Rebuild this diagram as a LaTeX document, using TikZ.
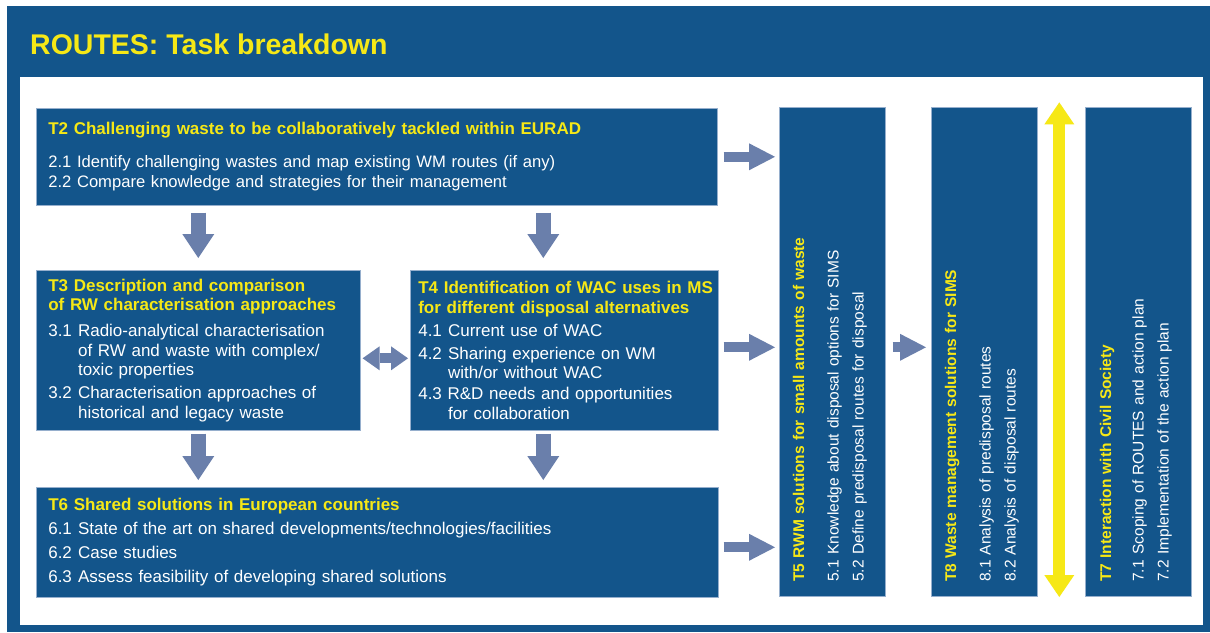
\documentclass[tikz,border=0pt]{standalone}
\usepackage{fontspec}
\setmainfont{Liberation Sans}
\usetikzlibrary{arrows.meta,calc}

\definecolor{routesblue}{RGB}{19,85,139}
\definecolor{routesedge}{RGB}{150,175,205}
\definecolor{arrowgrey}{RGB}{106,127,171}
\definecolor{routesyellow}{RGB}{246,232,22}

\newcommand{\hd}[1]{\mbox{\color{routesyellow}\bfseries #1}}
\newcommand{\itm}[2]{\mbox{\makebox[1.75em][l]{#1}#2}}
\newcommand{\cnt}[1]{\mbox{\hspace*{1.75em}#1}}
\newcommand{\lowend}{\rule[-8pt]{0pt}{8pt}}

\tikzset{
  task/.style={draw=routesedge, line width=0.6pt, fill=routesblue, text=white,
    align=left, anchor=north west, inner ysep=0pt, inner xsep=12pt,
    font=\fontsize{17}{19.5}\selectfont},
  vtask/.style={task, rotate=90, minimum width=489pt, minimum height=106pt,
    inner xsep=15pt, text width=459pt, font=\fontsize{15.5}{25}\selectfont},
  rightarrow/.style={draw=arrowgrey, line width=10pt,
    -{Triangle[length=26pt,width=27pt,line width=0pt 0 0]}},
  downarrow/.style={draw=arrowgrey, line width=15pt,
    -{Triangle[length=24pt,width=32pt,line width=0pt 0 0]}},
  twoarrow/.style={draw=arrowgrey, line width=10pt,
    {Triangle[length=17pt,width=24pt,line width=0pt 0 0]}-{Triangle[length=17pt,width=24pt,line width=0pt 0 0]}},
  yellowarrow/.style={draw=routesyellow, line width=12pt,
    {Triangle[length=22pt,width=30pt,line width=0pt 0 0]}-{Triangle[length=22pt,width=30pt,line width=0pt 0 0]}}
}

\begin{document}
\begin{tikzpicture}[x=1pt,y=-1pt]
\useasboundingbox (0,0) rectangle (1210,632);
\fill[white] (0,0) rectangle (1210,632);
\fill[routesblue] (7,6) rectangle (1210,632);
\fill[white] (20,77) rectangle (1203,625);

\node[anchor=west, inner sep=0pt, text=routesyellow,
  font=\fontsize{28.5}{34}\selectfont\bfseries] (title) at (30,44) {ROUTES: Task breakdown};

\node[task, minimum width=681pt, minimum height=97pt, text width=657pt] (t2) at (36,108) {%
  \hd{T2 Challenging waste to be collaboratively tackled within EURAD}\\[13.5pt]
  {\fontsize{16.6}{19.5}\selectfont
  \mbox{2.1 Identify challenging wastes and map existing WM routes (if any)}\\
  \mbox{2.2 Compare knowledge and strategies for their management}}};

\node[task, minimum width=324pt, minimum height=160pt, text width=300pt] (t3) at (36,270) {%
  \hd{T3 Description and comparison}\\
  \hd{of RW characterisation approaches}\\[6.5pt]
  \itm{3.1}{Radio-analytical characterisation}\\
  \cnt{of RW and waste with complex/}\\
  \cnt{toxic properties}\\[3.5pt]
  \itm{3.2}{Characterisation approaches of}\\
  \cnt{historical and legacy waste}};

\node[task, minimum width=308pt, minimum height=160pt, inner xsep=8pt, text width=292pt] (t4) at (410,270) {%
  \hd{T4 Identification of WAC uses in MS}\\
  \hd{for different disposal alternatives}\\[3.5pt]
  \itm{4.1}{Current use of WAC}\\[3.5pt]
  \itm{4.2}{Sharing experience on WM}\\
  \cnt{with/or without WAC}\\[1.5pt]
  \mbox{4.3 R\&D needs and opportunities}\\
  \cnt{for collaboration}};

\node[task, minimum width=682pt, minimum height=110pt, text width=658pt] (t6) at (36,487) {%
  \hd{T6 Shared solutions in European countries}\\[4.5pt]
  \itm{6.1}{State of the art on shared developments/technologies/facilities}\\[4.5pt]
  \itm{6.2}{Case studies}\\[4.5pt]
  \itm{6.3}{Assess feasibility of developing shared solutions}};

\node[vtask] (t5) at (779,597) {%
  \hd{T5 RWM solutions for small amounts of waste}\\[9.5pt]
  \itm{5.1}{Knowledge about disposal options for SIMS}\\
  \itm{5.2}{Define predisposal routes for disposal}\lowend};

\node[vtask] (t8) at (931,597) {%
  \hd{T8 Waste management solutions for SIMS}\\[9.5pt]
  \mbox{8.1 Analysis of predisposal routes}\\
  \mbox{8.2 Analysis of disposal routes}\lowend};

\node[vtask] (t7) at (1085,597) {%
  \hd{T7 Interaction with Civil Society}\\[7.5pt]
  \itm{7.1}{Scoping of ROUTES and action plan}\\
  \itm{7.2}{Implementation of the action plan}\lowend};

\draw[downarrow, shorten <=7pt, shorten >=12pt] (t3.north |- t2.south) -- (t3.north);
\draw[downarrow, shorten <=7pt, shorten >=12pt] ([xshift=-21pt]t4.north |- t2.south) -- ([xshift=-21pt]t4.north);
\draw[downarrow, shorten <=3pt, shorten >=7pt] (t3.south) -- (t3.south |- t6.north);
\draw[downarrow, shorten <=3pt, shorten >=7pt] ([xshift=-21pt]t4.south) -- ([xshift=-21pt]t4.south |- t6.north);
\draw[twoarrow, shorten <=2pt, shorten >=2pt] ([yshift=-8pt]t3.east) -- ([yshift=-8pt]t4.west);

\draw[rightarrow, shorten <=6pt, shorten >=4pt] (t2.east) -- (t2.east -| t5.north);
\draw[rightarrow, shorten <=5pt, shorten >=4pt] ([yshift=3pt]t4.east) -- ([yshift=3pt]t4.east -| t5.north);
\draw[rightarrow, shorten <=5pt, shorten >=4pt] ([yshift=-5pt]t6.east) -- ([yshift=-5pt]t6.east -| t5.north);
\draw[rightarrow, shorten <=7pt, shorten >=5pt] ([yshift=3pt]t4.east -| t5.south) -- ([yshift=3pt]t4.east -| t8.north);

\coordinate (ytop) at ($(t8.south east)!0.5!(t7.north east)+(-2,-5)$);
\coordinate (ybot) at ($(t8.south west)!0.5!(t7.north west)+(-2,0)$);
\draw[yellowarrow] (ytop) -- (ybot);
\end{tikzpicture}
\end{document}
